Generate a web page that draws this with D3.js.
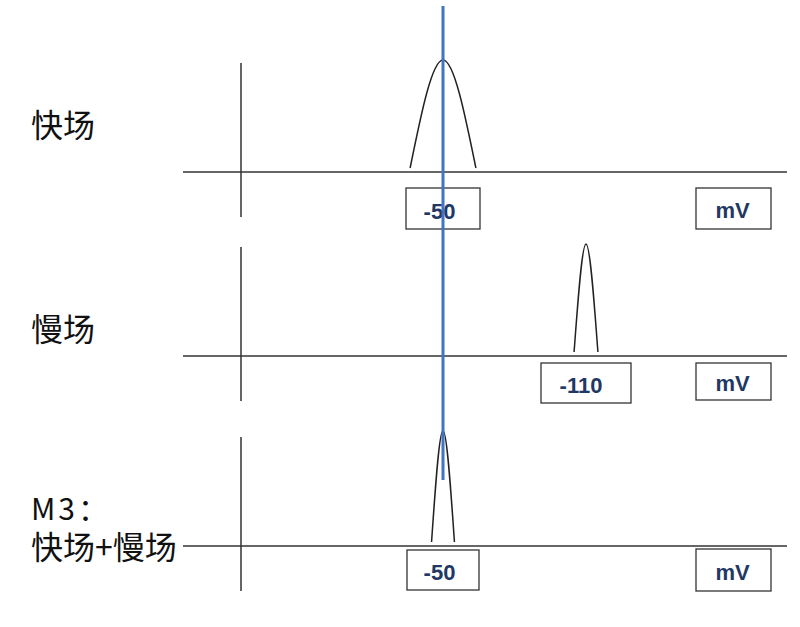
<!DOCTYPE html>
<html>
<head>
<meta charset="utf-8">
<script src="https://cdn.jsdelivr.net/npm/d3@7"></script>
<style>
    html, body { margin: 0; padding: 0; background: #fff; }
    svg { display: block; }
</style>
</head>
<body>
<svg id="chart"></svg>
<script>
// panel data
const panelLabels = [["快场"], ["慢场"], ["M3：", "快场+慢场"]];
const peakCenters = [-50, -110, -50];      // mV
const peakHalfWidths = [13.8, 5, 4.8];     // mV
const peakHeights = [1, 1, 1.03];          // relative
const tickLabels = ["-50", "-110", "-50"];
const unitLabel = "mV";
const markerValue = -50;                   // blue reference line

const width = 800;
const height = 627;

const svg = d3.select("#chart")
    .attr("width", width)
    .attr("height", height);

// layout per panel
const baselines = [172, 356, 546];
const boxTops = [188, 363, 550];
const boxHeights = [41, 40, 40];
const unitBoxTops = [188, 363, 549];
const unitBoxHeights = [41, 37, 42];
const tickBoxWidths = [74, 90, 72];
const labelCenters = [[122.5], [327], [507, 545]];

const axisX = 241;
const lineLeft = 183;
const lineRight = 787;
const ink = "#333";
const navy = "#1f3864";

// mV runs left to right towards more negative values
const x = d3.scaleLinear().domain([-50, -110]).range([443, 586]);

const line = d3.line()
    .x(d => d[0])
    .y(d => d[1])
    .curve(d3.curveNatural);

peakCenters.forEach((c, i) => {
    const base = baselines[i];
    const y = d3.scaleLinear().domain([0, 1]).range([base - 4, base - 112]);
    const g = svg.append("g").attr("class", "panel");

    // vertical axis
    g.append("line")
        .attr("x1", axisX).attr("x2", axisX)
        .attr("y1", base - 109).attr("y2", base + 45)
        .attr("stroke", ink).attr("stroke-width", 1.5);

    // horizontal axis
    g.append("line")
        .attr("x1", lineLeft).attr("x2", lineRight)
        .attr("y1", base).attr("y2", base)
        .attr("stroke", ink).attr("stroke-width", 1.5);

    // peak
    const pts = [
        [x(c + peakHalfWidths[i]), y(0)],
        [x(c), y(peakHeights[i])],
        [x(c - peakHalfWidths[i]), y(0)]
    ];
    g.append("path")
        .attr("d", line(pts))
        .attr("fill", "none")
        .attr("stroke", "#222")
        .attr("stroke-width", 1.5);

    // tick label box
    const bw = tickBoxWidths[i];
    const bx = x(c) - bw / 2;
    g.append("rect")
        .attr("x", bx).attr("y", boxTops[i])
        .attr("width", bw).attr("height", boxHeights[i])
        .attr("fill", "#fff")
        .attr("stroke", ink).attr("stroke-width", 1.3);
    g.append("text")
        .attr("x", x(c) - (i === 1 ? 5 : 3.5))
        .attr("y", boxTops[i] + boxHeights[i] / 2 + 2.5)
        .attr("text-anchor", "middle")
        .attr("dominant-baseline", "central")
        .attr("font-family", "'Liberation Sans', Arial, sans-serif")
        .attr("font-weight", "bold")
        .attr("font-size", 22)
        .attr("fill", navy)
        .text(tickLabels[i]);

    // unit box
    g.append("rect")
        .attr("x", 696).attr("y", unitBoxTops[i])
        .attr("width", 75).attr("height", unitBoxHeights[i])
        .attr("fill", "#fff")
        .attr("stroke", ink).attr("stroke-width", 1.3);
    g.append("text")
        .attr("x", 732.5)
        .attr("y", unitBoxTops[i] + unitBoxHeights[i] / 2 + 2)
        .attr("text-anchor", "middle")
        .attr("dominant-baseline", "central")
        .attr("font-family", "'Liberation Sans', Arial, sans-serif")
        .attr("font-weight", "bold")
        .attr("font-size", 22)
        .attr("fill", navy)
        .text(unitLabel);

    // panel label
    panelLabels[i].forEach((t, k) => {
        const isLatin = t.startsWith("M");
        g.append("text")
            .attr("x", 31)
            .attr("y", labelCenters[i][k])
            .attr("dominant-baseline", "central")
            .attr("font-family", "'Noto Sans CJK SC', sans-serif")
            .attr("font-size", isLatin ? 30 : 32)
            .attr("letter-spacing", isLatin ? 3 : 0)
            .attr("fill", "#111")
            .text(t);
    });
});

// blue reference line
svg.append("line")
    .attr("x1", x(markerValue)).attr("x2", x(markerValue))
    .attr("y1", 6).attr("y2", 480)
    .attr("stroke", "#4472c4")
    .attr("stroke-width", 3);
</script>
</body>
</html>
